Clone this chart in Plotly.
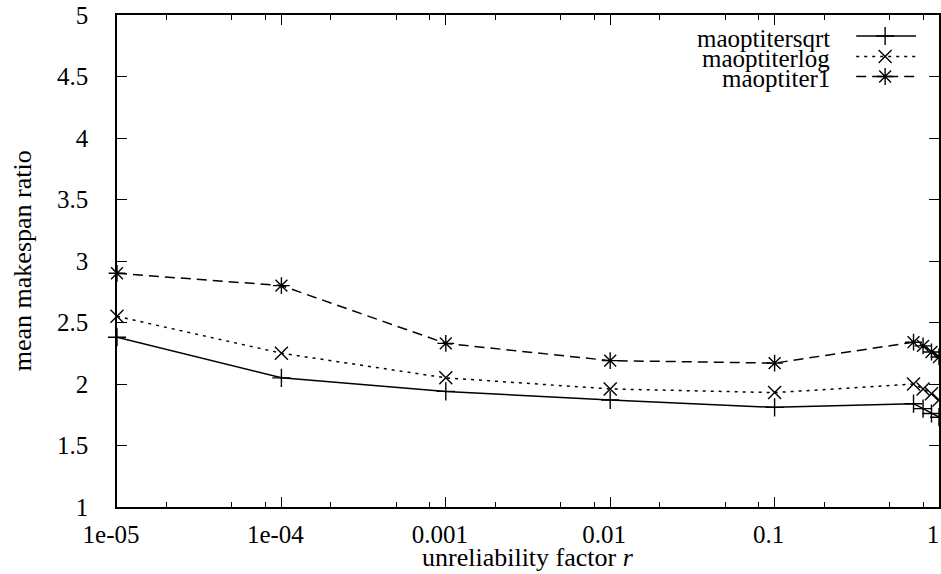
import plotly.graph_objects as go

# ---- data ----
r_values = [1e-5, 1e-4, 1e-3, 1e-2, 1e-1, 0.7, 0.8, 0.9, 1.0]
sqrt_vals = [2.38, 2.05, 1.94, 1.87, 1.81, 1.84, 1.80, 1.76, 1.73]
log_vals = [2.55, 2.25, 2.05, 1.96, 1.93, 2.00, 1.96, 1.92, 1.87]
one_vals = [2.90, 2.80, 2.33, 2.19, 2.17, 2.34, 2.31, 2.26, 2.22]
series_names = ["maoptitersqrt", "maoptiterlog", "maoptiter1"]

x_tickvals = [1e-5, 1e-4, 1e-3, 1e-2, 1e-1, 1]
x_ticktext = ["1e-05", "1e-04", "0.001", "0.01", "0.1", "1"]
x_minor = [m * 10 ** e for e in range(-5, 0) for m in (2, 5, 8)]
y_tickvals = [1, 1.5, 2, 2.5, 3, 3.5, 4, 4.5, 5]
y_ticktext = ["1", "1.5", "2", "2.5", "3", "3.5", "4", "4.5", "5"]
x_title = "unreliability factor <i>r</i>"
y_title = "mean makespan ratio"

FONT = "Liberation Serif"
TXT = 26
KEY = 25
TICK = 25
W, H = 941, 574
ML, MR, MT, MB = 117, 0, 15, 67

styles = [
    dict(symbol="cross-thin-open", dash="solid", size=13),
    dict(symbol="x-thin-open", dash="3px,5px", size=13),
    dict(symbol="asterisk-open", dash="10px,6px", size=14),
]
ys = [sqrt_vals, log_vals, one_vals]

fig = go.Figure()
for name, yv, st in zip(series_names, ys, styles):
    fig.add_trace(go.Scatter(
        x=r_values, y=yv, mode="lines+markers", name=name, showlegend=False,
        line=dict(color="black", width=1.5, dash=st["dash"]),
        marker=dict(symbol=st["symbol"], size=st["size"], color="black",
                    line=dict(color="black", width=1.4)),
        cliponaxis=False,
    ))

# ---- gnuplot-style key (text left of sample) drawn on a hidden overlay axis ----
pw = W - ML - MR
ph = H - MT - MB
def fx(px):
    return (px - ML) / pw
def fy(py):
    return (H - MB - py) / ph

key_rows = [36, 56.5, 76.5]
for name, st, row in zip(series_names, styles, key_rows):
    fig.add_trace(go.Scatter(
        x=[fx(858), fx(918)], y=[fy(row), fy(row)], mode="lines",
        line=dict(color="black", width=1.5, dash=st["dash"]),
        xaxis="x2", yaxis="y2", showlegend=False, hoverinfo="skip"))
    fig.add_trace(go.Scatter(
        x=[fx(887)], y=[fy(row)], mode="markers",
        marker=dict(symbol=st["symbol"], size=st["size"], color="black",
                    line=dict(color="black", width=1.4)),
        xaxis="x2", yaxis="y2", showlegend=False, hoverinfo="skip"))
    fig.add_annotation(
        x=fx(834), y=fy(row + 2), xref="x2", yref="y2", text=name,
        showarrow=False, xanchor="right", yanchor="middle",
        font=dict(family=FONT, size=KEY, color="black"))

# axis titles placed as text
fig.add_annotation(x=0.5, y=fy(557), xref="paper", yref="paper", text=x_title,
                   showarrow=False, xanchor="center", yanchor="middle",
                   font=dict(family=FONT, size=TXT, color="black"))
fig.add_annotation(x=fx(22), y=0.5, xref="paper", yref="paper", text=y_title,
                   showarrow=False, xanchor="center", yanchor="middle", textangle=-90,
                   font=dict(family=FONT, size=TXT, color="black"))

axis_common = dict(
    showline=True, linecolor="black", linewidth=1.5, mirror="ticks",
    ticks="inside", tickcolor="black", tickwidth=1.2, ticklen=10,
    showgrid=False, zeroline=False,
    tickfont=dict(family=FONT, size=TICK, color="black"),
)

fig.update_layout(
    width=W, height=H,
    margin=dict(l=ML, r=MR, t=MT, b=MB, pad=0),
    paper_bgcolor="white", plot_bgcolor="white",
    font=dict(family=FONT, size=TXT, color="black"),
    xaxis=dict(
        type="log", range=[-5, 0], tickmode="array",
        tickvals=x_tickvals, ticktext=x_ticktext,
        minor=dict(tickmode="array", tickvals=x_minor, ticks="inside",
                   ticklen=5, tickcolor="black", tickwidth=1.2),
        ticklabelstandoff=4, ticklabelshift=-6,
        **axis_common),
    yaxis=dict(
        range=[1, 5], tickmode="array",
        tickvals=y_tickvals, ticktext=y_ticktext,
        ticklabelstandoff=22,
        **axis_common),
    xaxis2=dict(overlaying="x", range=[0, 1], visible=False),
    yaxis2=dict(overlaying="y", range=[0, 1], visible=False),
    showlegend=False,
)

fig.write_html("out.html")
